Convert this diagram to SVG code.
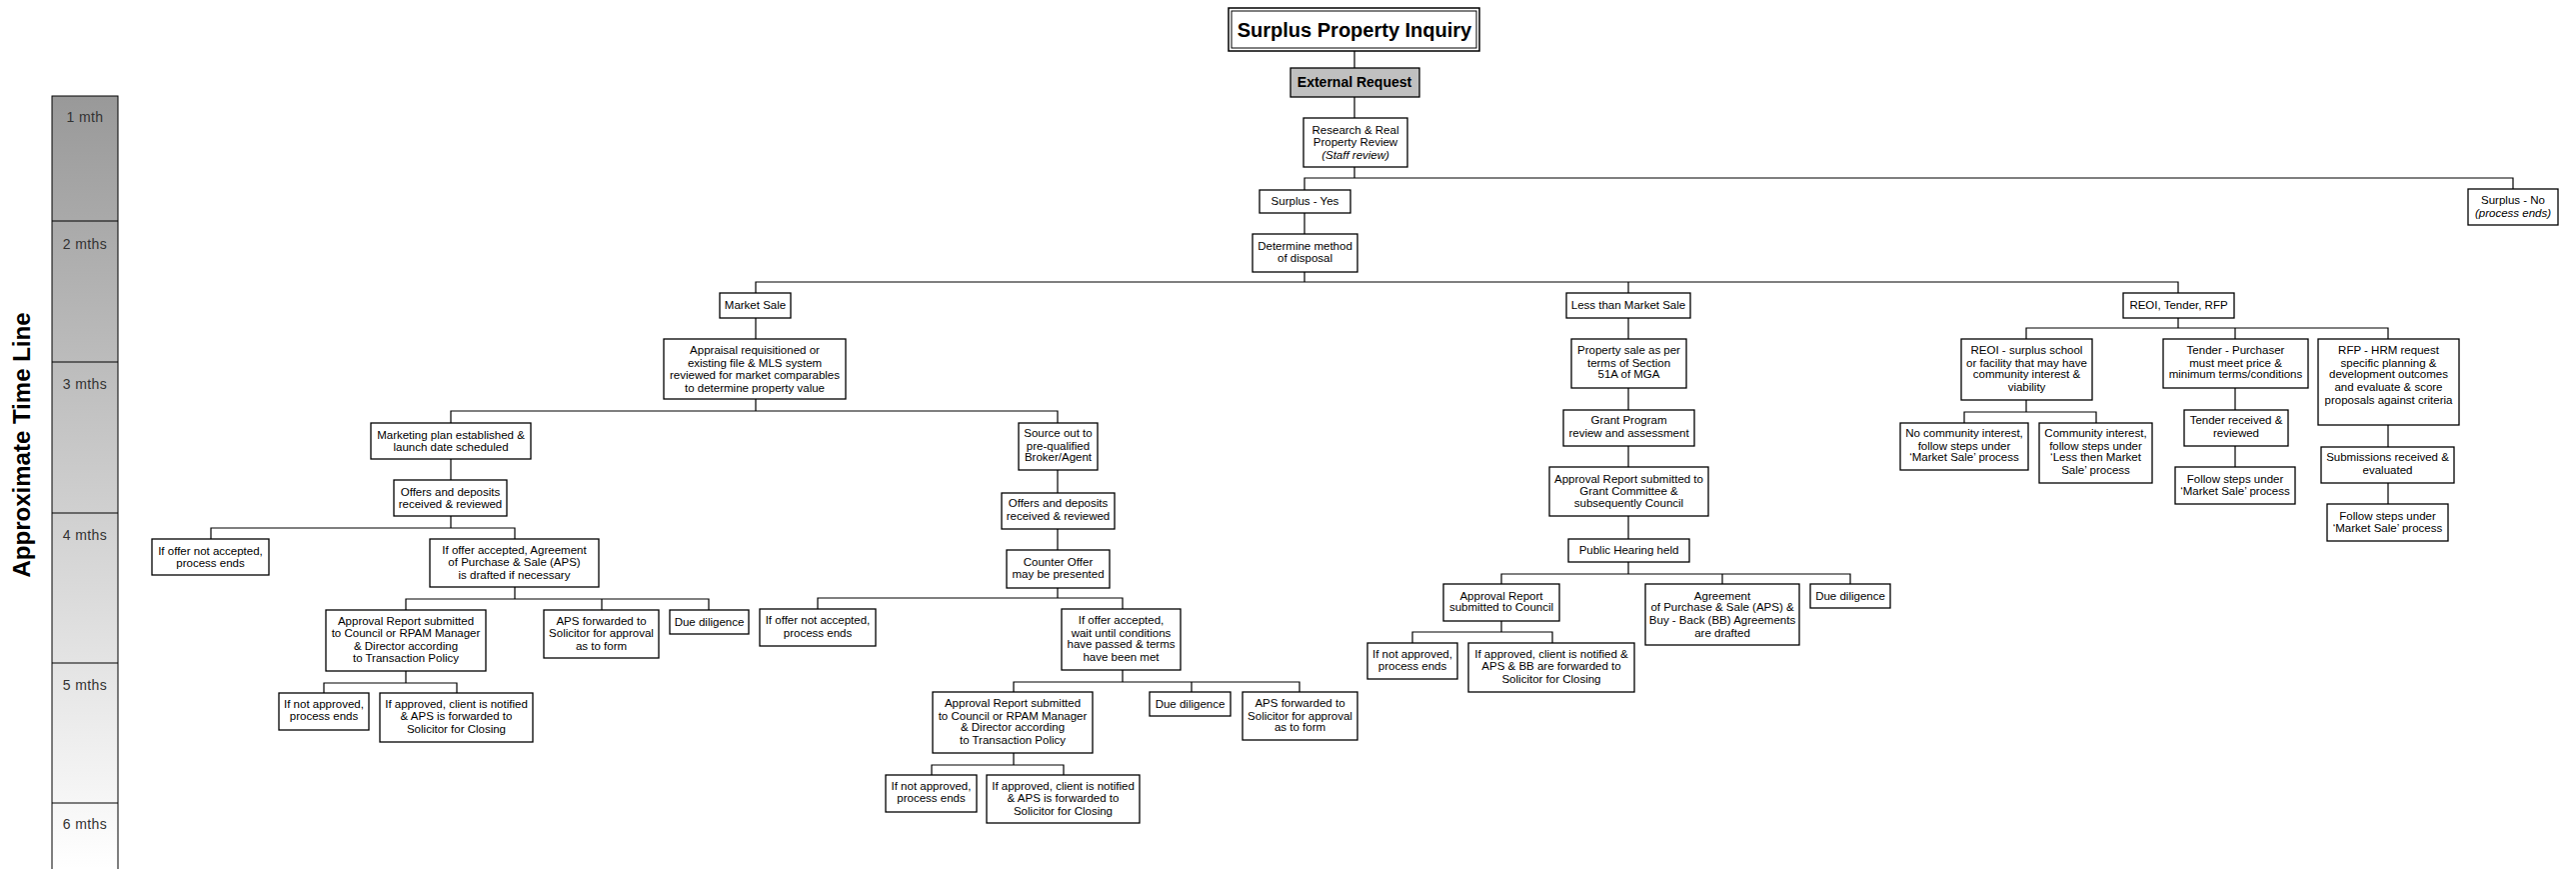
<svg xmlns="http://www.w3.org/2000/svg" width="2577" height="869" viewBox="0 0 2577 869">
<style>
.bg{fill:#fff}
.box{fill:#fff;stroke:#000;stroke-width:1.3}
.t{font-family:"Liberation Sans",Arial,sans-serif;font-size:11.5px;text-anchor:middle;fill:#000}
.it{font-style:italic}
.c{stroke:#000;stroke-width:1.2;fill:none}
.tl{font-family:"Liberation Sans",Arial,sans-serif;font-size:14px;text-anchor:middle;fill:#333;letter-spacing:0.4px}
</style>
<defs>
<linearGradient id="tg" x1="0" y1="97" x2="0" y2="869" gradientUnits="userSpaceOnUse">
<stop offset="0" stop-color="#999"/>
<stop offset="1" stop-color="#fff"/>
</linearGradient>
</defs>
<rect class="bg" x="0" y="0" width="2577" height="869"/>

<g id="timeline">
<rect x="52" y="96" width="66" height="781" fill="url(#tg)" stroke="#000" stroke-width="1"/>
<path d="M52 221H118M52 362H118M52 513H118M52 663H118M52 803H118" stroke="#000" stroke-width="1"/>
<text class="tl" x="85" y="122">1 mth</text>
<text class="tl" x="85" y="249">2 mths</text>
<text class="tl" x="85" y="389">3 mths</text>
<text class="tl" x="85" y="540">4 mths</text>
<text class="tl" x="85" y="690">5 mths</text>
<text class="tl" x="85" y="829">6 mths</text>
<text x="30" y="445" transform="rotate(-90 30 445)" font-family="Liberation Sans,Arial,sans-serif" font-size="24" font-weight="bold" text-anchor="middle">Approximate Time Line</text>
</g>

<g id="connectors">
<path class="c" d="M1355 51V68M1355 97V118M1355 167V178M1305 190V178H2514V189M1305 213V234M1305 272V282M756 293V282H2179V293M1629 282V293"/>
<path class="c" d="M756 318V339M756 399V411M451 423V411H1058V423M451 459V480M451 516V528M211 539V528H515V539M515 587V599M406 610V599H709V610M602 599V610M406 671V683M324 693V683H457V693"/>
<path class="c" d="M1058 470V493M1058 529V550M1058 588V598M818 609V598H1123V609M1123 670V682M1014 692V682H1300V692M1192 682V692M1014 753V765M932 775V765H1064V775"/>
<path class="c" d="M1629 318V339M1629 388V410M1629 446V467M1629 516V539M1629 562V574M1502 584V574H1851V584M1723 574V584M1502 621V632M1413 643V632H1553V643"/>
<path class="c" d="M2179 318V328M2027 339V328H2389V339M2236 328V339M2027 400V412M1965 423V412H2097V423M2236 388V410M2236 446V467M2389 425V447M2389 483V504"/>
</g>

<g id="title">
<rect x="1229" y="8" width="251" height="43" fill="#fff" stroke="#000" stroke-width="1.5"/>
<rect x="1232" y="11" width="245" height="37" fill="none" stroke="#000" stroke-width="1"/>
<text x="1355" y="37" font-family="Liberation Sans,Arial,sans-serif" font-size="20" font-weight="bold" text-anchor="middle">Surplus Property Inquiry</text>
</g>
<g id="external">
<rect x="1291" y="68" width="129" height="29" fill="#c0c0c0" stroke="#000" stroke-width="1.3"/>
<text x="1355" y="87" font-family="Liberation Sans,Arial,sans-serif" font-size="14" font-weight="bold" text-anchor="middle">External Request</text>
</g>
<g id="research">
<rect class="box" x="1304" y="118" width="104" height="49"/>
<text class="t"><tspan x="1356" y="134">Research &amp; Real</tspan><tspan x="1356" y="146">Property Review</tspan><tspan x="1356" y="159" class="it">(Staff review)</tspan></text>
</g>
<g id="surplus-yes">
<rect class="box" x="1260" y="190" width="91" height="23"/>
<text class="t" x="1305.5" y="205">Surplus - Yes</text>
</g>
<g id="surplus-no">
<rect class="box" x="2469" y="189" width="90" height="36"/>
<text class="t"><tspan x="2514" y="204">Surplus - No</tspan><tspan x="2514" y="217" class="it">(process ends)</tspan></text>
</g>
<g id="determine">
<rect class="box" x="1253" y="234" width="105" height="38"/>
<text class="t"><tspan x="1305.5" y="250">Determine method</tspan><tspan x="1305.5" y="262">of disposal</tspan></text>
</g>

<g id="market-sale">
<rect class="box" x="720" y="293" width="71" height="25"/>
<text class="t" x="755.5" y="309">Market Sale</text>
</g>
<g id="appraisal">
<rect class="box" x="664" y="339" width="182" height="60"/>
<text class="t"><tspan x="755" y="354">Appraisal requisitioned or</tspan><tspan x="755" y="366.5">existing file &amp; MLS system</tspan><tspan x="755" y="379">reviewed for market comparables</tspan><tspan x="755" y="391.5">to determine property value</tspan></text>
</g>
<g id="marketing-plan">
<rect class="box" x="371" y="423" width="160" height="36"/>
<text class="t"><tspan x="451" y="439">Marketing plan established &amp;</tspan><tspan x="451" y="451">launch date scheduled</tspan></text>
</g>
<g id="offers-1">
<rect class="box" x="394" y="480" width="113" height="36"/>
<text class="t"><tspan x="450.5" y="496">Offers and deposits</tspan><tspan x="450.5" y="508">received &amp; reviewed</tspan></text>
</g>
<g id="not-accepted-1">
<rect class="box" x="152" y="539" width="117" height="36"/>
<text class="t"><tspan x="210.5" y="555">If offer not accepted,</tspan><tspan x="210.5" y="567">process ends</tspan></text>
</g>
<g id="accepted-1">
<rect class="box" x="430" y="539" width="169" height="48"/>
<text class="t"><tspan x="514.5" y="554">If offer accepted, Agreement</tspan><tspan x="514.5" y="566">of Purchase &amp; Sale (APS)</tspan><tspan x="514.5" y="579">is drafted if necessary</tspan></text>
</g>
<g id="approval-1">
<rect class="box" x="326" y="610" width="160" height="61"/>
<text class="t"><tspan x="406" y="625">Approval Report submitted</tspan><tspan x="406" y="637">to Council or RPAM Manager</tspan><tspan x="406" y="650">&amp; Director according</tspan><tspan x="406" y="662">to Transaction Policy</tspan></text>
</g>
<g id="aps-1">
<rect class="box" x="544" y="610" width="115" height="48"/>
<text class="t"><tspan x="601.5" y="625">APS forwarded to</tspan><tspan x="601.5" y="637">Solicitor for approval</tspan><tspan x="601.5" y="650">as to form</tspan></text>
</g>
<g id="due-1">
<rect class="box" x="670" y="610" width="79" height="24"/>
<text class="t" x="709.5" y="626">Due diligence</text>
</g>
<g id="not-approved-1">
<rect class="box" x="279" y="693" width="90" height="37"/>
<text class="t"><tspan x="324" y="708">If not approved,</tspan><tspan x="324" y="720">process ends</tspan></text>
</g>
<g id="approved-1">
<rect class="box" x="380" y="693" width="153" height="49"/>
<text class="t"><tspan x="456.5" y="708">If approved, client is notified</tspan><tspan x="456.5" y="720">&amp; APS is forwarded to</tspan><tspan x="456.5" y="733">Solicitor for Closing</tspan></text>
</g>

<g id="source-out">
<rect class="box" x="1019" y="423" width="79" height="47"/>
<text class="t"><tspan x="1058.5" y="437">Source out to</tspan><tspan x="1058.5" y="450">pre-qualified</tspan><tspan x="1058.5" y="461">Broker/Agent</tspan></text>
</g>
<g id="offers-2">
<rect class="box" x="1002" y="493" width="113" height="36"/>
<text class="t"><tspan x="1058.5" y="507">Offers and deposits</tspan><tspan x="1058.5" y="520">received &amp; reviewed</tspan></text>
</g>
<g id="counter-offer">
<rect class="box" x="1007" y="550" width="103" height="38"/>
<text class="t"><tspan x="1058.5" y="566">Counter Offer</tspan><tspan x="1058.5" y="578">may be presented</tspan></text>
</g>
<g id="not-accepted-2">
<rect class="box" x="760" y="609" width="116" height="37"/>
<text class="t"><tspan x="818" y="624">If offer not accepted,</tspan><tspan x="818" y="637">process ends</tspan></text>
</g>
<g id="accepted-2">
<rect class="box" x="1062" y="609" width="119" height="61"/>
<text class="t"><tspan x="1121.5" y="624">If offer accepted,</tspan><tspan x="1121.5" y="637">wait until conditions</tspan><tspan x="1121.5" y="648">have passed &amp; terms</tspan><tspan x="1121.5" y="661">have been met</tspan></text>
</g>
<g id="approval-2">
<rect class="box" x="933" y="692" width="160" height="61"/>
<text class="t"><tspan x="1013" y="707">Approval Report submitted</tspan><tspan x="1013" y="720">to Council or RPAM Manager</tspan><tspan x="1013" y="731">&amp; Director according</tspan><tspan x="1013" y="744">to Transaction Policy</tspan></text>
</g>
<g id="due-2">
<rect class="box" x="1150" y="692" width="81" height="24"/>
<text class="t" x="1190.5" y="708">Due diligence</text>
</g>
<g id="aps-2">
<rect class="box" x="1243" y="692" width="115" height="48"/>
<text class="t"><tspan x="1300.5" y="707">APS forwarded to</tspan><tspan x="1300.5" y="720">Solicitor for approval</tspan><tspan x="1300.5" y="731">as to form</tspan></text>
</g>
<g id="not-approved-2">
<rect class="box" x="886" y="775" width="91" height="37"/>
<text class="t"><tspan x="931.5" y="790">If not approved,</tspan><tspan x="931.5" y="802">process ends</tspan></text>
</g>
<g id="approved-2">
<rect class="box" x="987" y="775" width="153" height="48"/>
<text class="t"><tspan x="1063.5" y="790">If approved, client is notified</tspan><tspan x="1063.5" y="802">&amp; APS is forwarded to</tspan><tspan x="1063.5" y="815">Solicitor for Closing</tspan></text>
</g>

<g id="less-than-market">
<rect class="box" x="1567" y="293" width="124" height="25"/>
<text class="t" x="1629" y="309">Less than Market Sale</text>
</g>
<g id="property-sale">
<rect class="box" x="1572" y="339" width="115" height="49"/>
<text class="t"><tspan x="1629.5" y="354">Property sale as per</tspan><tspan x="1629.5" y="367">terms of Section</tspan><tspan x="1629.5" y="378">51A of MGA</tspan></text>
</g>
<g id="grant-program">
<rect class="box" x="1564" y="410" width="131" height="36"/>
<text class="t"><tspan x="1629.5" y="424">Grant Program</tspan><tspan x="1629.5" y="437">review and assessment</tspan></text>
</g>
<g id="approval-grant">
<rect class="box" x="1550" y="467" width="159" height="49"/>
<text class="t"><tspan x="1629.5" y="483">Approval Report submitted to</tspan><tspan x="1629.5" y="495">Grant Committee &amp;</tspan><tspan x="1629.5" y="507">subsequently Council</tspan></text>
</g>
<g id="public-hearing">
<rect class="box" x="1569" y="539" width="121" height="23"/>
<text class="t" x="1629.5" y="554">Public Hearing held</text>
</g>
<g id="approval-3">
<rect class="box" x="1444" y="584" width="116" height="37"/>
<text class="t"><tspan x="1502" y="600">Approval Report</tspan><tspan x="1502" y="611">submitted to Council</tspan></text>
</g>
<g id="agreement">
<rect class="box" x="1646" y="584" width="154" height="61"/>
<text class="t"><tspan x="1723" y="600">Agreement</tspan><tspan x="1723" y="611">of Purchase &amp; Sale (APS) &amp;</tspan><tspan x="1723" y="624">Buy - Back (BB) Agreements</tspan><tspan x="1723" y="637">are drafted</tspan></text>
</g>
<g id="due-3">
<rect class="box" x="1811" y="584" width="80" height="24"/>
<text class="t" x="1851" y="600">Due diligence</text>
</g>
<g id="not-approved-3">
<rect class="box" x="1368" y="643" width="90" height="36"/>
<text class="t"><tspan x="1413" y="658">If not approved,</tspan><tspan x="1413" y="670">process ends</tspan></text>
</g>
<g id="approved-3">
<rect class="box" x="1469" y="643" width="166" height="49"/>
<text class="t"><tspan x="1552" y="658">If approved, client is notified &amp;</tspan><tspan x="1552" y="670">APS &amp; BB are forwarded to</tspan><tspan x="1552" y="683">Solicitor for Closing</tspan></text>
</g>

<g id="reoi-tender-rfp">
<rect class="box" x="2124" y="293" width="111" height="25"/>
<text class="t" x="2179.5" y="309">REOI, Tender, RFP</text>
</g>
<g id="reoi">
<rect class="box" x="1962" y="339" width="131" height="61"/>
<text class="t"><tspan x="2027.5" y="354">REOI - surplus school</tspan><tspan x="2027.5" y="367">or facility that may have</tspan><tspan x="2027.5" y="378">community interest &amp;</tspan><tspan x="2027.5" y="391">viability</tspan></text>
</g>
<g id="tender">
<rect class="box" x="2164" y="339" width="145" height="49"/>
<text class="t"><tspan x="2236.5" y="354">Tender - Purchaser</tspan><tspan x="2236.5" y="367">must meet price &amp;</tspan><tspan x="2236.5" y="378">minimum terms/conditions</tspan></text>
</g>
<g id="rfp">
<rect class="box" x="2319" y="339" width="141" height="86"/>
<text class="t"><tspan x="2389.5" y="354">RFP - HRM request</tspan><tspan x="2389.5" y="367">specific planning &amp;</tspan><tspan x="2389.5" y="378">development outcomes</tspan><tspan x="2389.5" y="391">and evaluate &amp; score</tspan><tspan x="2389.5" y="404">proposals against criteria</tspan></text>
</g>
<g id="no-community">
<rect class="box" x="1901" y="423" width="128" height="47"/>
<text class="t"><tspan x="1965" y="437">No community interest,</tspan><tspan x="1965" y="450">follow steps under</tspan><tspan x="1965" y="461">‘Market Sale’ process</tspan></text>
</g>
<g id="community">
<rect class="box" x="2040" y="423" width="113" height="60"/>
<text class="t"><tspan x="2096.5" y="437">Community interest,</tspan><tspan x="2096.5" y="450">follow steps under</tspan><tspan x="2096.5" y="461">‘Less then Market</tspan><tspan x="2096.5" y="474">Sale’ process</tspan></text>
</g>
<g id="tender-received">
<rect class="box" x="2185" y="410" width="104" height="36"/>
<text class="t"><tspan x="2237" y="424">Tender received &amp;</tspan><tspan x="2237" y="437">reviewed</tspan></text>
</g>
<g id="follow-tender">
<rect class="box" x="2176" y="467" width="120" height="37"/>
<text class="t"><tspan x="2236" y="483">Follow steps under</tspan><tspan x="2236" y="495">‘Market Sale’ process</tspan></text>
</g>
<g id="submissions">
<rect class="box" x="2322" y="447" width="133" height="36"/>
<text class="t"><tspan x="2388.5" y="461">Submissions received &amp;</tspan><tspan x="2388.5" y="474">evaluated</tspan></text>
</g>
<g id="follow-rfp">
<rect class="box" x="2328" y="504" width="121" height="37"/>
<text class="t"><tspan x="2388.5" y="520">Follow steps under</tspan><tspan x="2388.5" y="532">‘Market Sale’ process</tspan></text>
</g>
</svg>
